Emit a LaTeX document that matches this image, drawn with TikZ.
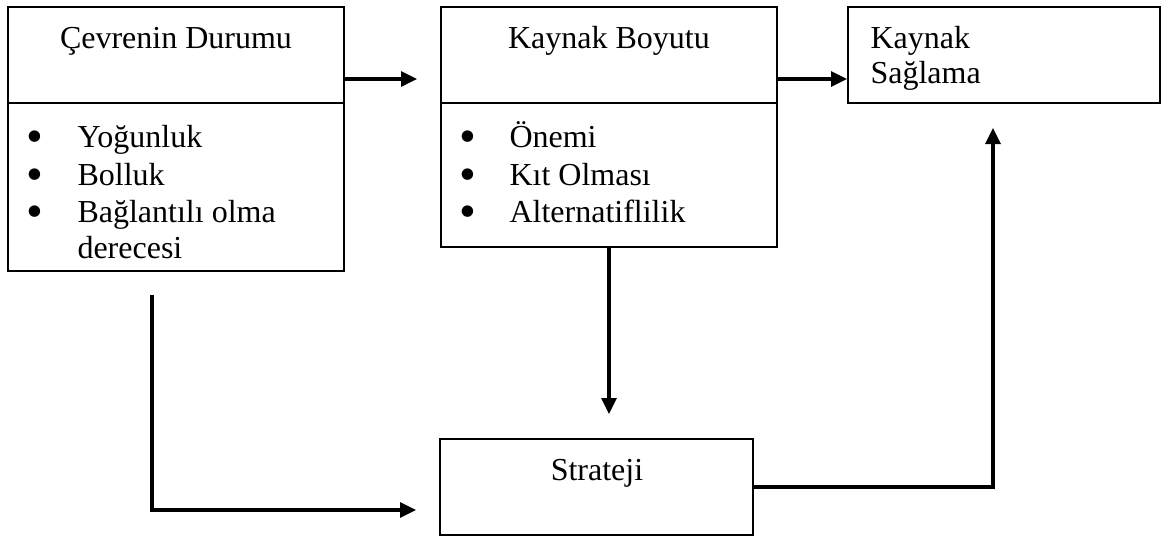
\documentclass[tikz,border=0pt]{standalone}
\usepackage{fontspec}
\setmainfont{Liberation Serif}
\usetikzlibrary{arrows.meta}
\begin{document}
\begin{tikzpicture}[x=0.375pt,y=-0.375pt,
  box/.style={draw, line width=0.75pt, rectangle, inner sep=0pt},
  conn/.style={line width=1.15pt, -{Triangle[length=6pt,width=5.6pt]}},
  rule/.style={line width=0.75pt},
  txt/.style={inner sep=0pt, font=\fontsize{12pt}{14pt}\selectfont},
  bul/.style={txt, anchor=base},
]
\newcommand{\listbullet}{\smash{\scalebox{1.5}{\textbullet}}}
\useasboundingbox (0,0) rectangle (1161,536);

% boxes
\node[box, minimum width=126pt, minimum height=99pt] (A) at (176,139) {};
\node[box, minimum width=126pt, minimum height=90pt] (B) at (609,127) {};
\node[box, minimum width=117pt, minimum height=36pt] (C) at (1004,55) {};
\node[box, minimum width=117.4pt, minimum height=36pt] (D) at (596.5,487) {};

% header dividers
\coordinate (divY) at (0,103);
\draw[rule] (A.west |- divY) -- (A.east |- divY);
\draw[rule] (B.west |- divY) -- (B.east |- divY);

% box A texts
\node[txt, anchor=base] (tA) at (176,48) {Çevrenin Durumu};
\node[bul] (bA1) at (35,152) {\listbullet};
\node[bul] (bA2) at (35,190) {\listbullet};
\node[bul] (bA3) at (35,227) {\listbullet};
\node[txt, anchor=base west] (iA1) at (77,147) {Yoğunluk};
\node[txt, anchor=base west] (iA2) at (77,185) {Bolluk};
\node[txt, anchor=base west] (iA3) at (77,222) {Bağlantılı olma};
\node[txt, anchor=base west] (iA4) at (77,258) {derecesi};

% box B texts
\node[txt, anchor=base] (tB) at (609,48) {Kaynak Boyutu};
\node[bul] (bB1) at (468,152) {\listbullet};
\node[bul] (bB2) at (468,190) {\listbullet};
\node[bul] (bB3) at (468,227) {\listbullet};
\node[txt, anchor=base west] (iB1) at (509,147) {Önemi};
\node[txt, anchor=base west] (iB2) at (509,185) {Kıt Olması};
\node[txt, anchor=base west] (iB3) at (509,222) {Alternatiflilik};

% box C and D texts
\node[txt, anchor=base west] (tC1) at (870,48) {Kaynak};
\node[txt, anchor=base west] (tC2) at (870,83) {Sağlama};
\node[txt, anchor=base] (tD) at (597,480) {Strateji};

% connectors
\coordinate (armY) at (0,79);
\coordinate (abEnd) at (417,79);
\draw[conn] (A.east |- abEnd) -- (abEnd);
\draw[conn] (B.east |- armY) -- (C.west |- armY);
\coordinate (bdEnd) at (609,414);
\draw[conn] (B.south) -- (bdEnd);
\coordinate (adStart) at (152,295);
\coordinate (adEnd) at (416,510);
\draw[conn] (adStart) |- (adEnd);
\coordinate (dcEnd) at (993,128);
\draw[conn] (D.east) -| (dcEnd);
\end{tikzpicture}
\end{document}
